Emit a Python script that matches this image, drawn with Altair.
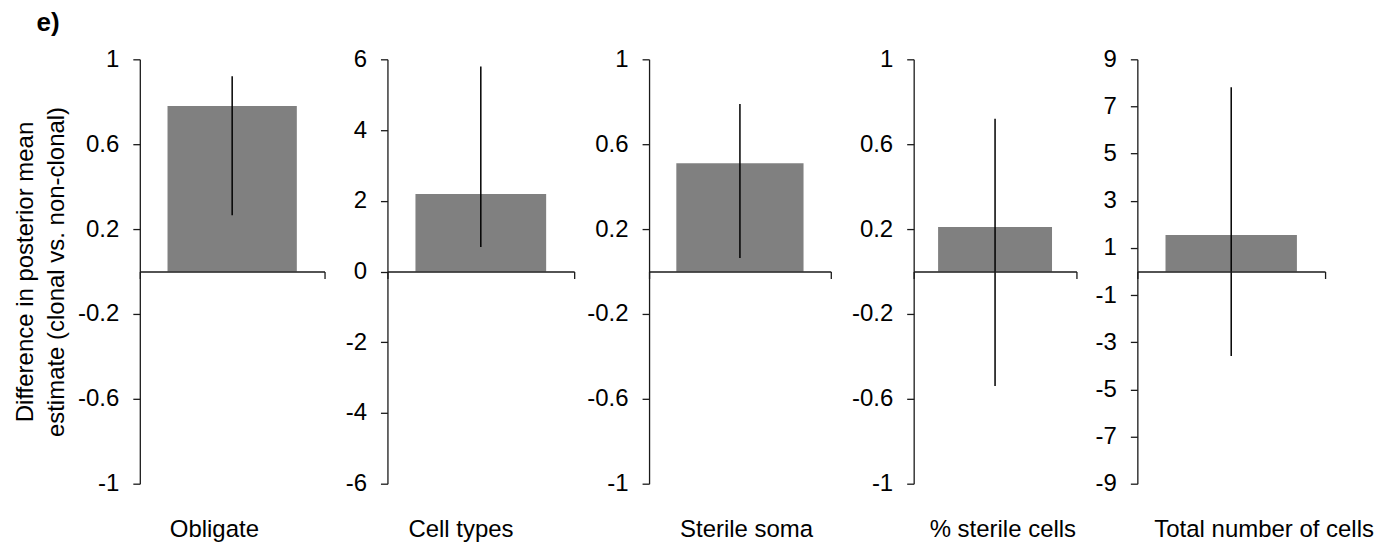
import altair as alt
import pandas as pd

categories = ["Obligate", "Cell types", "Sterile soma", "% sterile cells", "Total number of cells"]
means = [0.78, 2.19, 0.51, 0.21, 1.55]
lower = [0.265, 0.69, 0.064, -0.54, -3.58]
upper = [0.92, 5.80, 0.79, 0.72, 7.81]
axis_limits = [1, 6, 1, 1, 9]
tick_values = [
    [-1, -0.6, -0.2, 0.2, 0.6, 1],
    [-6, -4, -2, 0, 2, 4, 6],
    [-1, -0.6, -0.2, 0.2, 0.6, 1],
    [-1, -0.6, -0.2, 0.2, 0.6, 1],
    [-9, -7, -5, -3, -1, 1, 3, 5, 7, 9],
]
y_title = ["Difference in posterior mean", "estimate (clonal vs. non-clonal)"]
panel_tag = "e)"

# layout (pixels)
plot_height = 425
axis_lengths = [185, 187, 182, 163, 188]
slot_widths = [248, 262, 265, 224, 188]
label_dx = [30, 21, 31, 16, 17]

FONT = "Liberation Sans"
LINE = "#1a1a1a"
FS = 24

panels = []
for i, cat in enumerate(categories):
    df = pd.DataFrame({"category": [cat], "mean": [means[i]],
                       "lo": [lower[i]], "hi": [upper[i]]})
    lim = axis_limits[i]
    x_enc = alt.X(
        "category:N",
        scale=alt.Scale(range=[0, axis_lengths[i]], paddingInner=0, paddingOuter=0),
        axis=alt.Axis(orient="bottom", offset=-plot_height / 2, labels=False, title=None,
                      tickBand="extent", tickSize=7, domainColor=LINE, tickColor=LINE,
                      domainWidth=1.3, tickWidth=1.3, zindex=1),
    )
    y_axis_kwargs = dict(
        values=tick_values[i], tickSize=7, labelPadding=14, grid=False,
        domainColor=LINE, tickColor=LINE, domainWidth=1.3, tickWidth=1.3,
        labelExpr="(datum.value < 0 ? '-' : '') + format(abs(datum.value), '')",
    )
    if i == 0:
        y_axis_kwargs.update(title=y_title, titlePadding=9, titleLineHeight=31)
    else:
        y_axis_kwargs.update(title=None)
    y_enc = alt.Y("mean:Q", scale=alt.Scale(domain=[-lim, lim], nice=False),
                  axis=alt.Axis(**y_axis_kwargs))
    bars = alt.Chart(df).mark_bar(color="#808080", width=alt.RelativeBandSize(0.7)).encode(
        x=x_enc, y=y_enc)
    err = alt.Chart(df).mark_rule(color="#000000", strokeWidth=1.5).encode(
        x=alt.X("category:N"), y="lo:Q", y2="hi:Q")
    layer = alt.layer(bars, err).properties(
        width=slot_widths[i], height=plot_height,
        title=alt.TitleParams(cat, orient="bottom", anchor="start", frame="group",
                              dx=label_dx[i], offset=22, fontSize=FS, font=FONT,
                              fontWeight="normal", color="#000000", baseline="top"),
    )
    panels.append(layer)

chart = alt.hconcat(*panels, spacing=0, bounds="flush").properties(
    title=alt.TitleParams(panel_tag, anchor="start", fontSize=26, fontWeight="bold",
                          font=FONT, color="#000000", dx=23, offset=11),
    padding={"left": 5, "top": 2, "right": 0, "bottom": 0},
).configure_view(stroke=None).configure_axis(
    labelFont=FONT, titleFont=FONT, labelFontSize=FS, titleFontSize=FS,
    labelColor="#000000", titleColor="#000000", titleFontWeight="normal",
)

chart.save("out.html", embed_options={"renderer": "svg", "actions": False})
